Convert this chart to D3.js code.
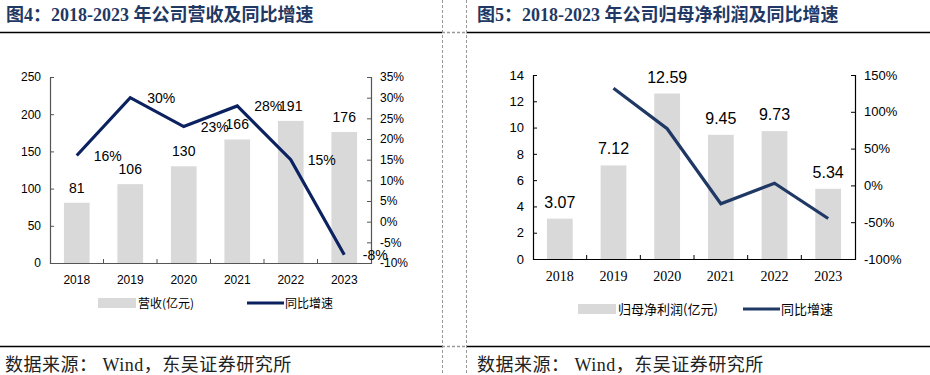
<!DOCTYPE html>
<html><head><meta charset="utf-8">
<script src="https://cdn.jsdelivr.net/npm/d3@7"></script>
<style>
html,body{margin:0;padding:0;background:#fff;}
svg{display:block;}
</style></head>
<body>
<svg id="c" width="930" height="375"></svg>
<script>
// ---- data ----
const years = ["2018","2019","2020","2021","2022","2023"];
const revenue = [81, 106, 130, 166, 191, 176];
const revenueGrowth = [16, 30, 23, 28, 15, -8];
const revenueLabels = ["81","106","130","166","191","176"];
const revenueGrowthLabels = ["16%","30%","23%","28%","15%","-8%"];
const profit = [3.07, 7.12, 12.59, 9.45, 9.73, 5.34];
const profitGrowth = [null, 132, 77, -25, 3, -45];
const profitLabels = ["3.07","7.12","12.59","9.45","9.73","5.34"];
const leftTicksA = [0,50,100,150,200,250];
const rightTicksA = [-10,-5,0,5,10,15,20,25,30,35];
const leftTicksB = [0,2,4,6,8,10,12,14];
const rightTicksB = [-100,-50,0,50,100,150];
const titleA = "图4：2018-2023 年公司营收及同比增速";
const titleB = "图5：2018-2023 年公司归母净利润及同比增速";
const legendA = ["营收(亿元)", "同比增速"];
const legendB = ["归母净利润(亿元)", "同比增速"];
const source = "数据来源： Wind，东吴证券研究所";

const svg = d3.select("#c");
const CJK = "'Noto Sans CJK SC', sans-serif";
const SANS = "'Liberation Sans', Arial, 'Noto Sans CJK SC', sans-serif";
const SERIF = "'Liberation Serif', 'Times New Roman', 'Noto Sans CJK SC', serif";

// frame lines
function hline(x1,x2,y,color,dash){
  svg.append("line").attr("x1",x1).attr("x2",x2).attr("y1",y).attr("y2",y)
    .attr("stroke",color).attr("stroke-width",1.3).attr("stroke-dasharray",dash||null);
}
function vline(x,y1,y2){
  svg.append("line").attr("x1",x).attr("x2",x).attr("y1",y1).attr("y2",y2)
    .attr("stroke","#999").attr("stroke-width",1).attr("stroke-dasharray","3,2");
}
hline(0,442,32.5,"#000"); hline(466,930,32.5,"#000");
hline(442,466,32.5,"#999","3,2");
hline(0,442,346.5,"#000"); hline(466,930,346.5,"#000");
hline(442,466,346.5,"#999","3,2");
vline(442.5,0,375); vline(466.5,0,375);

// titles
svg.append("text").attr("x",6).attr("y",21).text(titleA)
  .attr("font-family",SERIF).attr("font-weight","bold").attr("font-size",18).attr("fill","#1f3864");
svg.append("text").attr("x",477).attr("y",21).text(titleB)
  .attr("font-family",SERIF).attr("font-weight","bold").attr("font-size",18).attr("fill","#1f3864");
// sources
svg.append("text").attr("x",5).attr("y",371).text(source)
  .attr("font-family",SERIF).attr("font-size",18).attr("letter-spacing",0.5).attr("fill","#222");
svg.append("text").attr("x",477).attr("y",371).text(source)
  .attr("font-family",SERIF).attr("font-size",18).attr("letter-spacing",0.5).attr("fill","#222");

function panel(o){
  const g = svg.append("g");
  const x = d3.scaleBand().domain(years).range([o.x0,o.x1]).padding(0);
  const yL = d3.scaleLinear().domain(o.leftDomain).range([o.y1,o.y0]);
  const yR = d3.scaleLinear().domain(o.rightDomain).range([o.y1,o.y0]);
  const bw = x.bandwidth()*0.48;

  // bars
  g.selectAll("rect.bar").data(o.bars).join("rect")
    .attr("x",(d,i)=>x(years[i])+x.bandwidth()/2-bw/2)
    .attr("y",d=>yL(d)).attr("width",bw).attr("height",d=>yL(0)-yL(d))
    .attr("fill","#d9d9d9");

  // axes
  const axL = d3.axisLeft(yL).tickValues(o.leftTicks).tickSize(-4).tickPadding(9).tickFormat(o.leftFmt);
  const axR = d3.axisRight(yR).tickValues(o.rightTicks).tickSize(-4).tickPadding(9).tickFormat(d=>d+"%");
  const axB = d3.axisBottom(x).tickSize(0).tickPadding(12);
  const gl = g.append("g").attr("transform",`translate(${o.x0},0)`).call(axL);
  const gr = g.append("g").attr("transform",`translate(${o.x1},0)`).call(axR);
  const gb = g.append("g").attr("transform",`translate(0,${o.y1})`).call(axB);
  [gl,gr,gb].forEach(a=>{
    a.select(".domain").attr("stroke",o.axisColor).attr("stroke-width",1.2);
    a.selectAll(".tick line").attr("stroke",o.axisColor);
    a.selectAll("text").attr("fill","#000");
  });
  gl.selectAll("text").attr("font-family",SANS).attr("font-size",o.tickSize);
  gr.selectAll("text").attr("font-family",SANS).attr("font-size",o.tickSize);
  gb.selectAll("text").attr("font-family",o.xFont).attr("font-size",o.xSize);
  // category boundary ticks on x axis
  g.selectAll("line.bt").data(years.slice(1)).join("line")
    .attr("x1",d=>x(d)).attr("x2",d=>x(d)).attr("y1",o.y1).attr("y2",o.y1-4)
    .attr("stroke",o.axisColor);

  // bar labels
  g.selectAll("text.bl").data(o.barLabels).join("text")
    .attr("x",(d,i)=>x(years[i])+x.bandwidth()/2)
    .attr("y",(d,i)=>yL(o.bars[i])-o.labelGap)
    .attr("text-anchor","middle").attr("font-family",SANS).attr("font-size",o.labelSize)
    .attr("fill","#000").text(d=>d);

  // line
  const pts = o.line.map((v,i)=>({v,i})).filter(d=>d.v!==null);
  const line = d3.line().x(d=>x(years[d.i])+x.bandwidth()/2).y(d=>yR(d.v));
  g.append("path").datum(pts).attr("d",line).attr("fill","none")
    .attr("stroke",o.lineColor).attr("stroke-width",3.2).attr("stroke-linejoin","miter");

  if(o.lineLabels){
    g.selectAll("text.ll").data(o.lineLabels).join("text")
      .attr("x",(d,i)=>x(years[i])+x.bandwidth()/2+31)
      .attr("y",(d,i)=>yR(o.line[i])+5)
      .attr("text-anchor","middle").attr("font-family",SANS).attr("font-size",o.labelSize)
      .attr("fill","#000").text(d=>d);
  }

  // legend
  const lg = g.append("g");
  lg.append("rect").attr("x",o.legX).attr("y",o.legY-5).attr("width",38).attr("height",10).attr("fill","#d9d9d9");
  lg.append("text").attr("x",o.legX+40).attr("y",o.legY+4.5).text(o.legend[0])
    .attr("font-family",CJK).attr("font-size",o.legSize).attr("fill","#000");
  lg.append("line").attr("x1",o.legX2).attr("x2",o.legX2+37).attr("y1",o.legY).attr("y2",o.legY)
    .attr("stroke",o.lineColor).attr("stroke-width",3.2);
  lg.append("text").attr("x",o.legX2+38).attr("y",o.legY+4.5).text(o.legend[1])
    .attr("font-family",CJK).attr("font-size",o.legSize).attr("fill","#000");
}

panel({
  x0:50, x1:371, y0:77, y1:263,
  leftDomain:[0,250], rightDomain:[-10,35],
  leftTicks:leftTicksA, rightTicks:rightTicksA, leftFmt:d=>d,
  bars:revenue, barLabels:revenueLabels, labelGap:10, labelSize:14,
  line:revenueGrowth, lineLabels:revenueGrowthLabels, lineColor:"#0b2160",
  axisColor:"#555", tickSize:12, xFont:SANS, xSize:12,
  legX:98, legX2:247, legY:303, legend:legendA, legSize:12
});
panel({
  x0:533, x1:855, y0:75, y1:259,
  leftDomain:[0,14], rightDomain:[-100,150],
  leftTicks:leftTicksB, rightTicks:rightTicksB, leftFmt:d=>d,
  bars:profit, barLabels:profitLabels, labelGap:11, labelSize:16,
  line:profitGrowth, lineLabels:null, lineColor:"#1f3864",
  axisColor:"#000", tickSize:13, xFont:SERIF, xSize:14,
  legX:578, legX2:743, legY:309, legend:legendB, legSize:13
});
</script>
</body></html>
